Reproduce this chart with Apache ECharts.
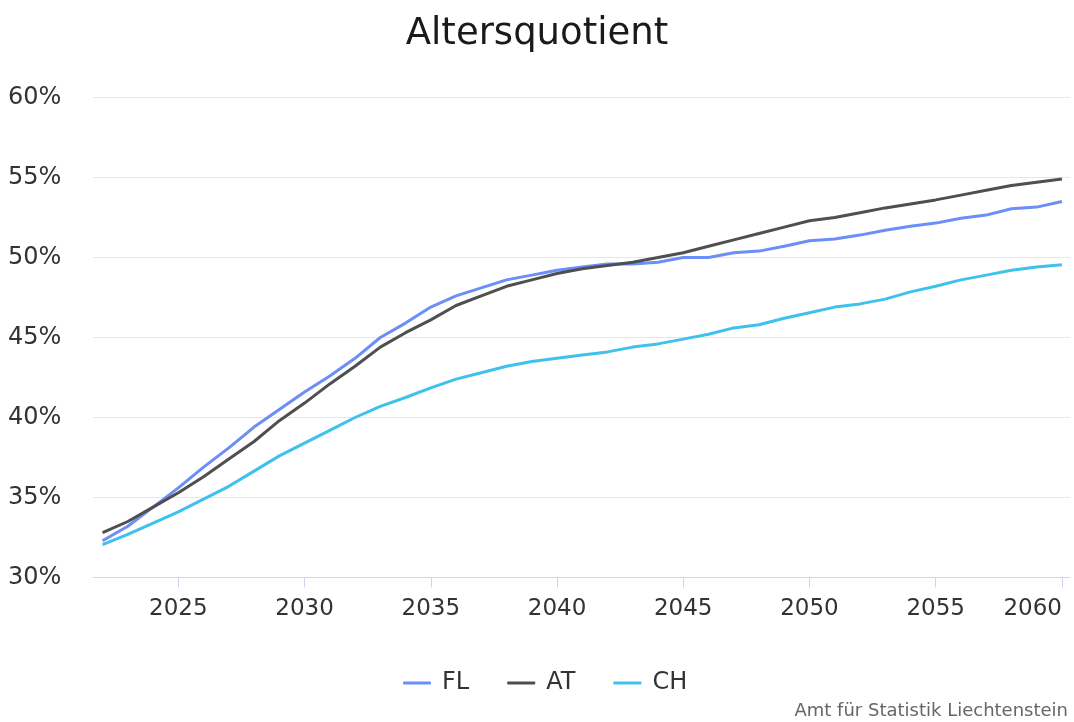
<!DOCTYPE html>
<html>
<head>
<meta charset="utf-8">
<script src="https://cdn.jsdelivr.net/npm/echarts@6/dist/echarts.min.js"></script>
<style>
html,body{margin:0;padding:0;background:#fff;}
#chart{width:1074px;height:722px;}
</style>
</head>
<body>
<div id="chart"></div>
<script>
const titleText = 'Altersquotient';
const creditText = 'Amt für Statistik Liechtenstein';
const years = [2022,2023,2024,2025,2026,2027,2028,2029,2030,2031,2032,2033,2034,2035,2036,2037,2038,2039,2040,2041,2042,2043,2044,2045,2046,2047,2048,2049,2050,2051,2052,2053,2054,2055,2056,2057,2058,2059,2060];
const seriesNames = ['FL','AT','CH'];
const flValues = [32.3,33.2,34.4,35.6,36.9,38.1,39.4,40.5,41.6,42.6,43.7,45.0,45.9,46.9,47.6,48.1,48.6,48.9,49.2,49.4,49.6,49.6,49.7,50.0,50.0,50.3,50.4,50.7,51.05,51.15,51.4,51.7,51.95,52.15,52.45,52.65,53.05,53.15,53.5];
const atValues = [32.8,33.5,34.4,35.3,36.3,37.4,38.5,39.8,40.9,42.1,43.2,44.4,45.3,46.1,47.0,47.6,48.2,48.6,49.0,49.3,49.5,49.7,50.0,50.3,50.7,51.1,51.5,51.9,52.3,52.5,52.8,53.1,53.35,53.6,53.9,54.2,54.5,54.7,54.9];
const chValues = [32.05,32.7,33.4,34.1,34.9,35.7,36.65,37.6,38.4,39.2,40.0,40.7,41.25,41.85,42.4,42.8,43.2,43.5,43.7,43.9,44.1,44.4,44.6,44.9,45.2,45.6,45.8,46.2,46.55,46.9,47.1,47.4,47.85,48.2,48.6,48.9,49.2,49.4,49.55];
const xTickLabels = [2025,2030,2035,2040,2045,2050,2055,2060];
const yTicks = [30,35,40,45,50,55,60];

const colors = ['#6b8ef7','#4f4f4f','#3fc1ef'];
const FONT = 'DejaVu Sans';
const allValues = [flValues, atValues, chValues];

const chart = echarts.init(document.getElementById('chart'), null, {renderer:'canvas'});
const option = {
  backgroundColor: '#ffffff',
  animation: false,
  color: colors,
  title: {
    text: titleText,
    left: 'center',
    top: 11,
    textStyle: {fontFamily: FONT, fontSize: 37, fontWeight: 'normal', color: '#1a1a1a'}
  },
  legend: {
    data: seriesNames,
    left: 398,
    top: 666,
    itemWidth: 28,
    itemHeight: 3,
    itemGap: 38,
    icon: 'roundRect',
    textStyle: {fontFamily: FONT, fontSize: 24, color: '#333', padding: [0,0,0,6]}
  },
  grid: {left: 93, right: 4, top: 97.5, bottom: 144.5, containLabel: false, outerBoundsMode: 'none'},
  xAxis: {
    type: 'value',
    min: 2021.62,
    max: 2060.32,
    splitLine: {show: false},
    axisLine: {show: true, lineStyle: {color: '#ccd6eb', width: 1}},
    axisTick: {show: true, length: 10, lineStyle: {color: '#ccd6eb'}, customValues: xTickLabels},
    axisLabel: {
      customValues: xTickLabels,
      margin: 20,
      hideOverlap: false,
      alignMaxLabel: 'right',
      fontFamily: FONT, fontSize: 23, color: '#333',
      formatter: v => String(v)
    }
  },
  yAxis: {
    type: 'value',
    min: yTicks[0],
    max: yTicks[yTicks.length-1],
    interval: 5,
    axisLine: {show: false},
    axisTick: {show: false},
    splitLine: {lineStyle: {color: '#e6e6e6', width: 1}},
    axisLabel: {
      align: 'left',
      margin: 85,
      fontFamily: FONT, fontSize: 24, color: '#333',
      formatter: '{value}%'
    }
  },
  graphic: [{
    type: 'text',
    right: 6,
    bottom: 2,
    style: {text: creditText, font: '18px "DejaVu Sans"', fill: '#666'}
  }],
  series: seriesNames.map((name, i) => ({
    name: name,
    type: 'line',
    showSymbol: false,
    symbol: 'none',
    smooth: false,
    lineStyle: {width: 3, color: colors[i]},
    itemStyle: {color: colors[i]},
    data: years.map((y, j) => [y, allValues[i][j]])
  }))
};
chart.setOption(option);
</script>
</body>
</html>
